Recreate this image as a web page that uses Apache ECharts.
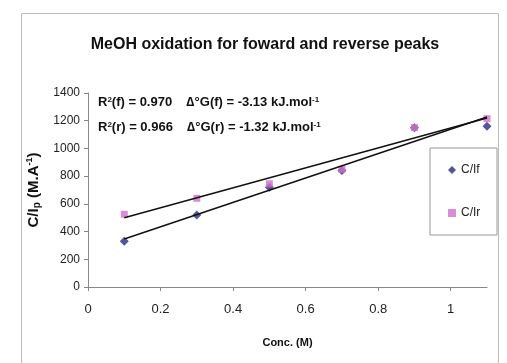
<!DOCTYPE html>
<html><head><meta charset="utf-8">
<script src="https://cdn.jsdelivr.net/npm/echarts@6/dist/echarts.min.js"></script>
<style>html,body{margin:0;padding:0;background:#fff}#c{width:507px;height:363px}</style>
</head><body><div id="c"></div>
<script>
var conc = [0.1, 0.3, 0.5, 0.7, 0.9, 1.1];
var cIf = [330, 520, 720, 840, 1150, 1160];
var cIr = [525, 640, 745, 850, 1150, 1215];
var trendFx = [0.1, 1.1], trendFy = [347, 1227];
var trendRx = [0.1, 1.1], trendRy = [500, 1220];
var yTicks = [0, 200, 400, 600, 800, 1000, 1200, 1400];
var xTicks = [0, 0.2, 0.4, 0.6, 0.8, 1];
var titleText = 'MeOH oxidation for foward and reverse peaks';
var ann1 = 'R{sup|2}(f) = 0.970    \u2206\u00B0G(f) = -3.13 kJ.mol{sup|-1}';
var ann2 = 'R{sup|2}(r) = 0.966    \u2206\u00B0G(r) = -1.32 kJ.mol{sup|-1}';

function pairs(xs, ys){ return xs.map(function(x,i){return [x, ys[i]];}); }
var chart = echarts.init(document.getElementById('c'));
var F = 'Liberation Sans, Arial, sans-serif';
var supStyle = {fontSize: 8, verticalAlign: 'top', fontWeight: 'bold', fontFamily: F, lineHeight: 10, padding:[0,0,6,0]};
chart.setOption({
  animation: false,
  backgroundColor: '#fff',
  title: {text: titleText, left: 260, textAlign: 'center', top: 32,
    textStyle: {fontFamily: F, fontSize: 16, fontWeight: 'bold', color: '#111'}},
  grid: {left: 88, right: 20, top: 93, bottom: 76},
  graphic: [
    {type: 'rect', shape: {x: 21.5, y: 13.5, width: 477, height: 360}, style: {fill: 'none', stroke: '#bbb', lineWidth: 1}, silent: true},
    {type: 'text', left: 98, top: 96, style: {text: ann1, font: 'bold 13px ' + F, fill: '#111', rich: {sup: supStyle}}},
    {type: 'text', left: 98, top: 121, style: {text: ann2, font: 'bold 13px ' + F, fill: '#111', rich: {sup: supStyle}}}
  ],
  legend: {orient: 'vertical', left: 430, top: 148,
    padding: [15, 12, 15, 18], itemGap: 29, itemWidth: 8, itemHeight: 8,
    backgroundColor: '#fff', borderColor: '#999', borderWidth: 1,
    textStyle: {fontFamily: F, fontSize: 12, color: '#222', lineHeight: 14, width: 24},
    data: ['C/If', 'C/Ir']},
  xAxis: {type: 'value', min: 0, max: 1.1, interval: 0.2,
    name: 'Conc. (M)', nameLocation: 'middle', nameGap: 50,
    nameTextStyle: {fontFamily: F, fontSize: 11, fontWeight: 'bold', color: '#111'},
    axisLine: {lineStyle: {color: '#888'}}, axisTick: {inside: false, length: 4, lineStyle: {color: '#888'}},
    axisLabel: {fontFamily: F, fontSize: 13, color: '#222', margin: 16, showMaxLabel: false,
      formatter: function(v){ return xTicks.indexOf(+v.toFixed(1)) >= 0 ? String(+v.toFixed(1)) : ''; }},
    splitLine: {show: false}},
  yAxis: {type: 'value', min: 0, max: 1400, interval: 200,
    name: 'C/I{sub|p} (M.A{sup|-1})', nameLocation: 'middle', nameGap: 45, nameRotate: 90,
    nameTextStyle: {fontFamily: F, fontSize: 15, fontWeight: 'bold', color: '#111',
      rich: {sub: {fontSize: 10, fontWeight: 'bold', verticalAlign: 'bottom', fontFamily: F, padding:[7,0,0,0]},
             sup: {fontSize: 9, verticalAlign: 'top', fontWeight: 'bold', fontFamily: F, padding:[0,0,7,0]}}},
    axisLine: {show: true, lineStyle: {color: '#888'}}, axisTick: {show: true, length: 4, lineStyle: {color: '#888'}},
    axisLabel: {fontFamily: F, fontSize: 12, color: '#222', margin: 8,
      formatter: function(v){ return yTicks.indexOf(v) >= 0 ? String(v) : ''; }},
    splitLine: {show: false}},
  series: [
    {name: 'C/If', type: 'scatter', symbol: 'diamond', symbolSize: 9, itemStyle: {color: '#2b2b86'}, data: pairs(conc, cIf), z: 3},
    {name: 'C/Ir', type: 'scatter', symbol: 'rect', symbolSize: 7, itemStyle: {color: '#d070c8'}, data: pairs(conc, cIr), z: 3},
    {name: 'trendF', type: 'line', data: pairs(trendFx, trendFy), symbol: 'none', lineStyle: {color: '#111', width: 1.5}, z: 4},
    {name: 'trendR', type: 'line', data: pairs(trendRx, trendRy), symbol: 'none', lineStyle: {color: '#111', width: 1.5}, z: 4}
  ]
});
</script></body></html>
